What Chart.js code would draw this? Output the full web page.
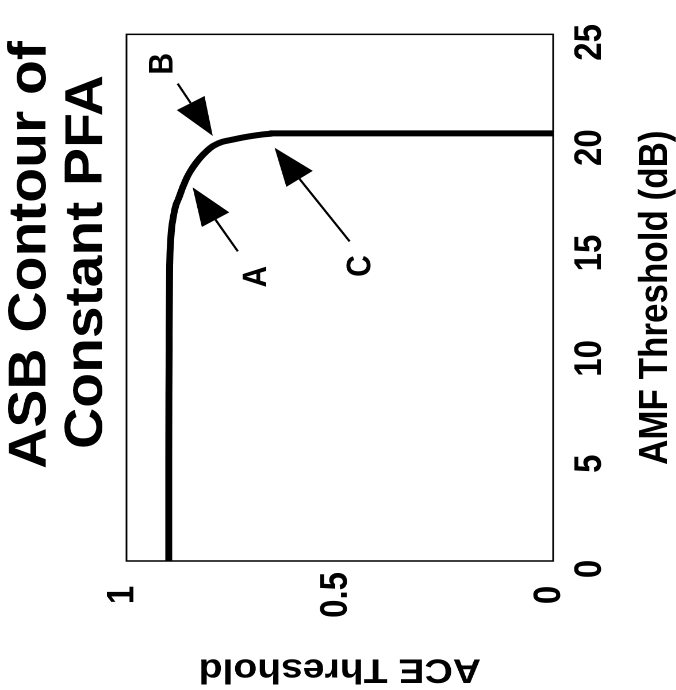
<!DOCTYPE html>
<html>
<head>
<meta charset="utf-8">
<title>ASB Contour of Constant PFA</title>
<script src="https://cdn.jsdelivr.net/npm/chart.js@4/dist/chart.umd.min.js"></script>
<style>
    html, body { margin: 0; padding: 0; background: #fff; width: 676px; height: 690px; overflow: hidden; }
    /* the figure is printed on its side: draw it upright, then turn it (and stretch a bit like the scan) */
    #sheet { position: absolute; left: 0; top: 0; width: 690px; height: 588px;
             transform-origin: 0 0; transform: translate(0px, 690px) rotate(-90deg) scale(1, 1.15); }
</style>
</head>
<body>
<div id="sheet"><canvas id="chart" width="690" height="588"></canvas></div>
<script>
const titleLines = ['ASB Contour of', 'Constant PFA'];
const amfLabel = 'AMF Threshold (dB)';
const aceLabel = 'ACE Threshold';
const amfTicks = [0, 5, 10, 15, 20, 25];
const aceTicks = [0, 0.5, 1];

// contour of constant PFA
const amfValues = [0, 5, 10, 14, 15.4, 16.0, 16.9, 17.2, 17.8, 18.3, 18.7, 19.1, 19.4, 19.7, 19.9, 20.0, 20.1, 20.18, 20.25, 20.3, 20.3];
const aceValues = [0.901, 0.901, 0.900, 0.899, 0.896, 0.893, 0.884, 0.878, 0.867, 0.856, 0.844, 0.829, 0.815, 0.797, 0.775, 0.752, 0.728, 0.705, 0.680, 0.657, 0.0];

// the A / B / C call-outs (data units)
const markerLabels = ['A', 'B', 'C'];
const markerLabelAmf = [13.5, 23.6, 14.0];
const markerLabelAce = [0.695, 0.915, 0.451];
const arrowTailAmf = [14.70, 22.66, 15.17];
const arrowTailAce = [0.739, 0.880, 0.477];
const arrowTipAmf = [17.74, 20.18, 19.62];
const arrowTipAce = [0.845, 0.798, 0.653];

const FONT = "'Liberation Sans', Arial, Helvetica, sans-serif";
Chart.defaults.font.family = FONT;
Chart.defaults.color = '#000';

const framePlugin = {
    id: 'frame',
    beforeDatasetsDraw(chart) {
        const { ctx, chartArea: a } = chart;
        ctx.save();
        ctx.strokeStyle = '#000';
        ctx.lineWidth = 1.5;
        ctx.strokeRect(a.left, a.top, a.right - a.left, a.bottom - a.top);
        ctx.restore();
    }
};

// two line heading, centred, in a wide bold face like the original
const headingPlugin = {
    id: 'heading',
    afterDraw(chart) {
        const ctx = chart.ctx;
        const spots = [{ x: 435, y: 27 }, { x: 428, y: 76 }];
        const widen = 1.24;
        ctx.save();
        ctx.fillStyle = '#000';
        ctx.font = `bold 46px ${FONT}`;
        ctx.textAlign = 'center';
        ctx.textBaseline = 'middle';
        for (let i = 0; i < titleLines.length; i++) {
            ctx.save();
            ctx.translate(spots[i].x, spots[i].y);
            ctx.scale(widen, 1);
            ctx.fillText(titleLines[i], 0, 0);
            ctx.restore();
        };
        ctx.restore();
    }
};

const arrowPlugin = {
    id: 'arrows',
    afterDatasetsDraw(chart) {
        const { ctx, scales } = chart;
        ctx.save();
        ctx.fillStyle = '#000';
        ctx.strokeStyle = '#000';
        ctx.lineWidth = 2;
        for (let i = 0; i < markerLabels.length; i++) {
            const x0 = scales.x.getPixelForValue(arrowTailAmf[i]);
            const y0 = scales.y.getPixelForValue(arrowTailAce[i]);
            const x1 = scales.x.getPixelForValue(arrowTipAmf[i]);
            const y1 = scales.y.getPixelForValue(arrowTipAce[i]);
            const ang = Math.atan2(y1 - y0, x1 - x0);
            const len = 38, half = 14;
            const bx = x1 - len * Math.cos(ang), by = y1 - len * Math.sin(ang);

            ctx.beginPath();
            ctx.moveTo(x0, y0);
            ctx.lineTo(bx, by);
            ctx.stroke();

            ctx.beginPath();
            ctx.moveTo(x1, y1);
            ctx.lineTo(bx + half * Math.sin(ang), by - half * Math.cos(ang));
            ctx.lineTo(bx - half * Math.sin(ang), by + half * Math.cos(ang));
            ctx.closePath();
            ctx.fill();

            ctx.font = `bold 30px ${FONT}`;
            ctx.textAlign = 'center';
            ctx.textBaseline = 'middle';
            ctx.fillText(markerLabels[i],
                scales.x.getPixelForValue(markerLabelAmf[i]),
                scales.y.getPixelForValue(markerLabelAce[i]));
        };
        ctx.restore();
    }
};

const points = amfValues.map((v, i) => ({ x: v, y: aceValues[i] }));

new Chart(document.getElementById('chart'), {
    type: 'scatter',
    data: {
        datasets: [{
            label: 'ASB contour',
            data: points,
            showLine: true,
            borderColor: '#000',
            backgroundColor: '#000',
            borderWidth: 6,
            pointRadius: 0,
            cubicInterpolationMode: 'monotone'
        }]
    },
    options: {
        responsive: false,
        animation: false,
        devicePixelRatio: 2,
        layout: { padding: { top: 110, left: 0, right: 27, bottom: 0 } },
        plugins: {
            legend: { display: false },
            tooltip: { enabled: false },
            title: { display: false }
        },
        scales: {
            x: {
                type: 'linear',
                min: 0,
                max: 25,
                grid: { display: false, drawTicks: false },
                border: { display: false },
                afterBuildTicks: (scale) => { scale.ticks = amfTicks.map(v => ({ value: v })); },
                afterFit: (scale) => { scale.height = 107; },
                ticks: {
                    font: { size: 33, weight: 'bold', lineHeight: 1 },
                    padding: 16,
                    labelOffset: -8,
                    maxRotation: 0,
                    autoSkip: false,
                    callback: (v) => String(v)
                },
                title: {
                    display: true,
                    text: amfLabel,
                    font: { size: 35, weight: 'bold', lineHeight: 1 },
                    padding: { top: 24, bottom: 0 }
                }
            },
            y: {
                type: 'linear',
                min: 0,
                max: 1,
                grid: { display: false, drawTicks: false },
                border: { display: false },
                afterBuildTicks: (scale) => { scale.ticks = aceTicks.map(v => ({ value: v })); },
                afterFit: (scale) => { scale.width = 129; },
                ticks: {
                    font: { size: 33, weight: 'bold', lineHeight: 1 },
                    padding: 11,
                    crossAlign: 'center',
                    labelOffset: -3,
                    autoSkip: false,
                    callback: (v) => String(v)
                },
                title: {
                    display: true,
                    text: aceLabel,
                    font: { size: 34, weight: 'bold', lineHeight: 1 },
                    padding: { top: 4, bottom: 0 }
                }
            }
        }
    },
    plugins: [framePlugin, arrowPlugin, headingPlugin]
});
</script>
</body>
</html>
